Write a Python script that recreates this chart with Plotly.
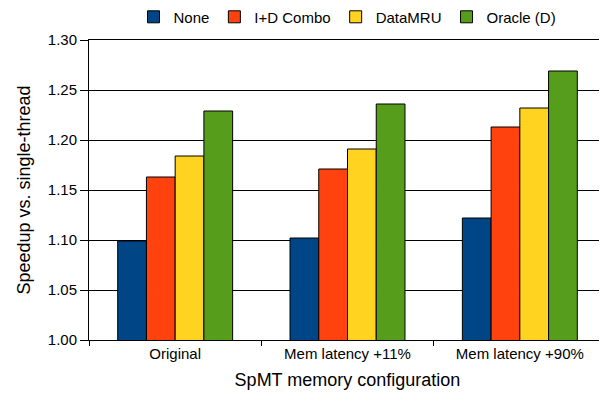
import plotly.graph_objects as go

configs = ['Original', 'Mem latency +11%', 'Mem latency +90%']
series_names = ['None', 'I+D Combo', 'DataMRU', 'Oracle (D)']
none_vals = [1.099, 1.102, 1.122]
combo_vals = [1.163, 1.171, 1.213]
datamru_vals = [1.184, 1.191, 1.232]
oracle_vals = [1.229, 1.236, 1.269]
colors = ['#004586', '#ff420e', '#ffd320', '#579d1c']

fig = go.Figure()
for name, vals, col in zip(series_names,
                           [none_vals, combo_vals, datamru_vals, oracle_vals],
                           colors):
    fig.add_trace(go.Bar(
        x=configs, y=vals, name=name,
        marker=dict(color=col, line=dict(color='#000000', width=1)),
    ))

# page body has an 8px margin, so the figure is sized to fit the window
fig.update_layout(
    width=599, height=394,
    barmode='group', bargap=0.333, bargroupgap=0,
    paper_bgcolor='white', plot_bgcolor='white',
    font=dict(family='Liberation Sans, Arial, sans-serif', color='#000000', size=15),
    margin=dict(l=81, r=1, t=32, b=62, autoexpand=False),
    legend=dict(orientation='h', x=0.5, xanchor='center', xref='paper',
                y=0.977, yanchor='middle', yref='container',
                bgcolor='rgba(0,0,0,0)',
                font=dict(size=15), itemclick=False, traceorder='normal'),
    xaxis=dict(
        title=dict(text='SpMT memory configuration', font=dict(size=18), standoff=12),
        automargin=False,
        showline=True, linecolor='#000000', linewidth=1, mirror=True,
        ticks='outside', tickson='boundaries', ticklen=5, tickcolor='#000000',
        tickfont=dict(size=15), showgrid=False,
    ),
    yaxis=dict(
        title=dict(text='Speedup vs. single-thread', font=dict(size=18), standoff=12),
        automargin=False,
        range=[1.0, 1.3], dtick=0.05, tickformat='.2f',
        showline=True, linecolor='#000000', linewidth=1, mirror=True,
        ticks='outside', ticklen=8, tickcolor='#000000',
        showgrid=True, gridcolor='#000000', gridwidth=1,
        tickfont=dict(size=15), zeroline=False,
    ),
)

fig.write_html("out.html")
